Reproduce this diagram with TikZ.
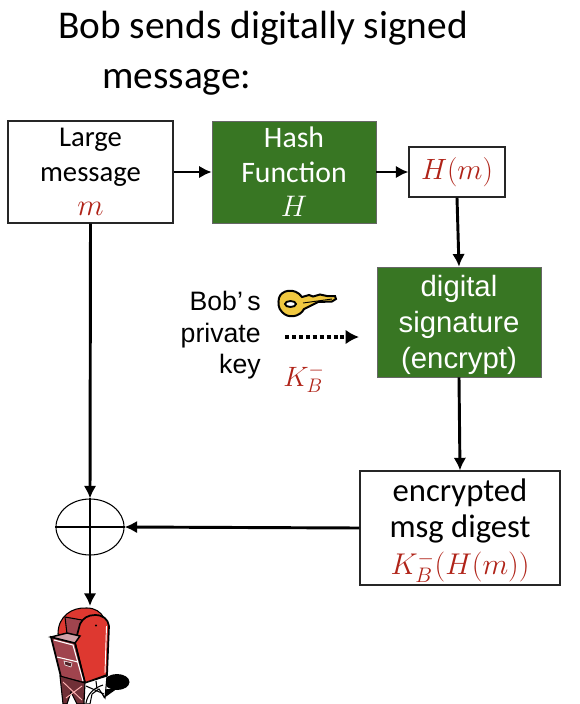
\documentclass[tikz,border=0pt]{standalone}
\usepackage{fix-cm}
\usepackage{fontspec}
\setmainfont{Carlito}
\newfontfamily\arialfont{Liberation Sans}
\usetikzlibrary{arrows.meta,shapes.geometric}
\definecolor{boxgreen}{RGB}{56,118,35}
\definecolor{mathred}{RGB}{176,35,24}
\definecolor{boxred}{RGB}{222,56,48}
\definecolor{drawerred}{RGB}{160,68,78}
\definecolor{keygold}{RGB}{240,200,64}
\begin{document}
\begin{tikzpicture}%
	[x=.75pt,
	y=-.75pt,
	title/.style={anchor=base west, inner sep=0pt, font=\fontsize{29.5}{32}\selectfont},
	plainbox/.style={draw=black!85, fill=white, thick, align=center, inner sep=0pt, font=\fontsize{21.5}{26.5}\selectfont},
	greenbox/.style={draw=black!60, fill=boxgreen, text=white, align=center, inner sep=0pt},
	keytext/.style={align=right, inner sep=0pt, font=\arialfont\fontsize{20}{23.6}\selectfont},
	mathtext/.style={text=mathred},
	link/.style={draw=black, line width=2.2pt, -{Latex[length=9.5pt,width=9.5pt]}},
	dotlink/.style={draw=black, line width=3pt, dash pattern=on 3pt off 2.2pt, -{Latex[length=10pt,width=11pt]}},
	thinline/.style={draw=black, line width=1pt}]
%
\useasboundingbox (0,0) rectangle (580,704);
%%
%% Drawing the title
%%
\node[title] (titlea) at (58,38) {Bob sends digitally signed};
\node[title] (titleb) at (102,88) {message:};
%%
%% Drawing the boxes
%%
\node[plainbox, minimum width=123.75pt, minimum height=76.5pt] (large) at (90.5,172) {Large\\message\\[-1pt]\textcolor{mathred}{\fontsize{23}{26}\selectfont$m$}};
\node[greenbox, minimum width=123pt, minimum height=76.5pt, font=\fontsize{22.3}{26.5}\selectfont] (hash) at (294,172) {Hash\\Function\\[-1pt]$H$};
\node[plainbox, minimum width=72pt, minimum height=37.5pt] (hm) at (457,172) {\textcolor{mathred}{\fontsize{22}{26}\selectfont$H(m)$}};
\node[greenbox, minimum width=123pt, minimum height=82.5pt, font=\arialfont\fontsize{22}{27}\selectfont] (sig) at (459,322) {\rule{0pt}{21pt}digital\\signature\\(encrypt)};
\node[plainbox, minimum width=150pt, minimum height=85.5pt, font=\fontsize{24.5}{27}\selectfont] (enc) at (460,528) {\rule{0pt}{21pt}encrypted\\msg digest\\[1pt]\textcolor{mathred}{\fontsize{22.5}{27}\selectfont$K_B^-(H(m))$}};
\node[draw=black, thick, ellipse, fill=white, minimum width=51pt, minimum height=42pt, inner sep=0pt] (xor) at (90,527) {};
\draw[thinline] (xor.north) -- (xor.south);
\draw[thinline] (xor.west) -- (xor.east);
%%
%% Drawing the key label
%%
\node[keytext, anchor=north east] (keylabel) at (261,291) {Bob’\,s\\private\\key};
\node[mathtext, font=\fontsize{21}{24}\selectfont] (keyname) at (304,378) {$K_B^-$};
\coordinate (dota) at (285,337);
\coordinate (dotb) at (359,337);
\coordinate (boxtop) at (90,606);
%%
%% Drawing the connectors
%%
\draw[link] (large.east) -- (hash.west);
\draw[link] (hash.east) -- (hm.west);
\draw[link] (hm.south) -- (sig.north);
\draw[link] (sig.south) -- (enc.north);
\draw[link] (enc.west) -- (xor.east);
\draw[link] (large.south) -- (xor.north);
\draw[link] (xor.south) -- (boxtop);
\draw[dotlink] (dota) -- (dotb);
%%
%% Drawing the key
%%
\fill[keygold, draw=black, line width=1.5pt] (279,298) .. controls (281,290) and (295,287) .. (302,297) -- (309,295) -- (313,296.500) -- (320,294.500) -- (327,296) -- (335,296) -- (336,299) -- (332,301.500) -- (318,302) -- (304,309) .. controls (300,317) and (288,319) .. (282,312) .. controls (278,308) and (278,303) .. (279,298) -- cycle;
\fill[white, draw=black, line width=1.4pt] (290.500,304) ellipse (5.500 and 3);
\draw[black, line width=.7pt] (303,303) -- (332,299);
%%
%% Drawing the mailbox
%%
\fill[black] (117,682) ellipse (12.500 and 8);
\fill[black] (100,690) -- (118,688) -- (104,698) -- cycle;
\fill[boxred, draw=black, thick] (58,634) .. controls (58,616) and (72,607) .. (87,608) .. controls (95,608) and (101,612) .. (104,618) -- (80,642) -- cycle;
\fill[drawerred, draw=black, thick] (65,617) -- (82,620) -- (80,637) -- (67,634) -- cycle;
\fill[boxred, draw=black, line width=1.3pt] (75,643) -- (80,624) .. controls (83,618) and (88,615) .. (95,615) .. controls (103,615) and (108,619) .. (109,626) -- (107,675) -- (85,683) -- cycle;
\draw[white, line width=.7pt] (106.500,626) -- (105,673);
\fill[drawerred, draw=black, line width=1.3pt] (51,637) -- (75,643) -- (85,683) -- (61,677) -- cycle;
\draw[white, line width=.8pt] (54,640) -- (73,645) -- (83,681);
\draw[white, line width=.8pt] (57,657) -- (78,662);
\fill[black!50!drawerred, draw=white, thin] (64,661) -- (72,663) -- (71,667) -- (65,665) -- cycle;
\fill[drawerred!50!white, draw=black, line width=1.1pt] (51,637) -- (67,633) -- (80,636) -- (75,643) -- cycle;
\fill[black] (96,625.500) circle (1.200);
\fill[drawerred!70!black, draw=black, thick] (60,676) -- (85,683) -- (84,704) -- (77,704) -- (71,692) -- (67,704) -- (63,704) -- cycle;
\fill[white, draw=black, thick] (85,683) -- (107,676) -- (105,698) -- (99,689) -- (92,694) -- (90,704) -- (84,704) -- cycle;
\draw[black, line width=.8pt] (86,703) .. controls (88,693) and (94,688) .. (103,685);
\draw[black, line width=.8pt] (86,686) -- (104,694);
\draw[black, line width=.8pt] (96,681) -- (97,689);
\draw[red!30!white, line width=.7pt] (63,682) -- (82,700);
\draw[red!30!white, line width=.7pt] (82,686) -- (66,698);
\end{tikzpicture}
\end{document}
